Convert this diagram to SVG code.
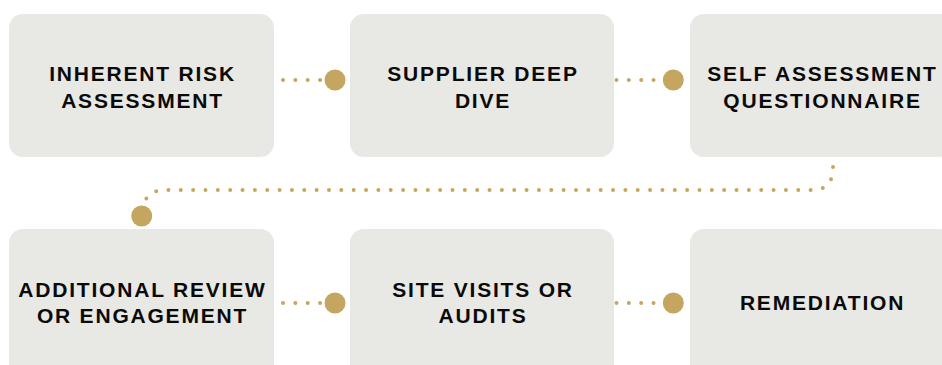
<svg xmlns="http://www.w3.org/2000/svg" width="942" height="365" viewBox="0 0 942 365">
<style>
.box{fill:#e8e8e4}
.lbl{font-family:"Liberation Sans",Arial,sans-serif;font-weight:bold;font-size:21px;letter-spacing:1.8px;fill:#0a0a0a;text-anchor:middle}
.dots{fill:none;stroke:#c4a660;stroke-width:4;stroke-linecap:round;stroke-dasharray:0 12.35}
.knob{fill:#c4a660}
</style>
<rect width="942" height="365" fill="#ffffff"/>
<g id="connectors">
<path class="dots" d="M283 80 L322 80"/>
<circle class="knob" cx="335" cy="80" r="10.5"/>
<path class="dots" d="M616.5 80 L690 80"/>
<circle class="knob" cx="673.3" cy="80" r="10.5"/>
<path class="dots" d="M833 167 C833 181 828 190 811 190 L164 190 C154 190 146 196 143 205"/>
<circle class="knob" cx="141.7" cy="216" r="10.5"/>
<path class="dots" d="M283 303 L322 303"/>
<circle class="knob" cx="335" cy="303" r="10.5"/>
<path class="dots" d="M616.5 303 L690 303"/>
<circle class="knob" cx="673.3" cy="303" r="10.5"/>
</g>
<g id="node-inherent-risk">
<rect class="box" x="9" y="14" width="265" height="143" rx="14"/>
<text class="lbl" x="142.5" y="81">INHERENT RISK</text>
<text class="lbl" x="142.5" y="108">ASSESSMENT</text>
</g>
<g id="node-supplier-deep-dive">
<rect class="box" x="350" y="14" width="264" height="143" rx="14"/>
<text class="lbl" x="483" y="81">SUPPLIER DEEP</text>
<text class="lbl" x="483" y="108">DIVE</text>
</g>
<g id="node-self-assessment">
<rect class="box" x="690" y="14" width="264" height="143" rx="14"/>
<text class="lbl" x="822.5" y="81">SELF ASSESSMENT</text>
<text class="lbl" x="822.5" y="108">QUESTIONNAIRE</text>
</g>
<g id="node-additional-review">
<rect class="box" x="9" y="229" width="265" height="150" rx="14"/>
<text class="lbl" x="142.5" y="297">ADDITIONAL REVIEW</text>
<text class="lbl" x="142.5" y="323">OR ENGAGEMENT</text>
</g>
<g id="node-site-visits">
<rect class="box" x="350" y="229" width="264" height="150" rx="14"/>
<text class="lbl" x="483" y="297">SITE VISITS OR</text>
<text class="lbl" x="483" y="323">AUDITS</text>
</g>
<g id="node-remediation">
<rect class="box" x="690" y="229" width="264" height="150" rx="14"/>
<text class="lbl" x="822.5" y="310">REMEDIATION</text>
</g>
</svg>
